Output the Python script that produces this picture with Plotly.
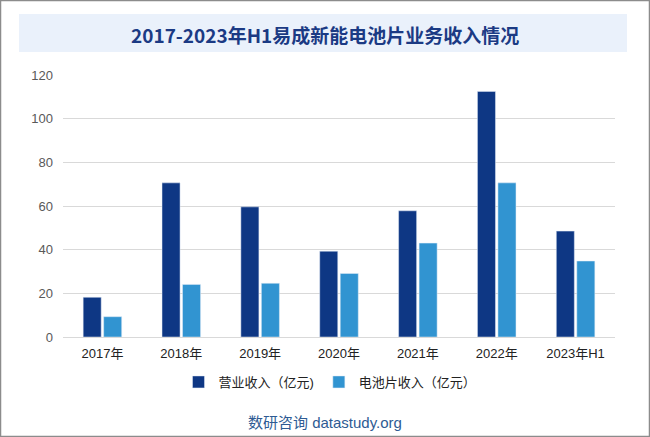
import plotly.graph_objects as go

categories = ["2017年", "2018年", "2019年", "2020年", "2021年", "2022年", "2023年H1"]
revenue = [18.2, 70.6, 59.6, 39.3, 57.8, 112.5, 48.5]
cell_revenue = [9.3, 24.1, 24.6, 29.1, 43.0, 70.6, 34.8]
series_names = ["营业收入（亿元)", "电池片收入（亿元）"]
y_ticks = [0, 20, 40, 60, 80, 100, 120]

W, H = 650, 437
L, R, T, B = 63, 35, 75, 100
pw, ph = W - L - R, H - T - B

def px_x(px):
    return (px - L) / pw

def px_y(py):
    return (H - B - py) / ph

FONT = "Liberation Sans, Noto Sans CJK SC, sans-serif"

fig = go.Figure()
fig.add_trace(go.Bar(x=categories, y=revenue, name=series_names[0], marker_color="#0E3784"))
fig.add_trace(go.Bar(x=categories, y=cell_revenue, name=series_names[1], marker_color="#3194D1"))

fig.update_layout(
    width=W, height=H,
    margin=dict(l=L, r=R, t=T, b=B),
    paper_bgcolor="white", plot_bgcolor="white",
    barmode="group", bargap=0.48, bargroupgap=0.12,
    font=dict(family=FONT, size=13, color="#333333"),
    showlegend=True,
    legend=dict(orientation="h", x=px_x(330), xanchor="center", y=px_y(382), yanchor="middle",
                font=dict(size=13, color="#222222", family=FONT), itemwidth=30,
                traceorder="normal"),
    xaxis=dict(showgrid=False, showline=True, linecolor="#D9D9D9", linewidth=1,
               ticks="", ticklabelstandoff=4, tickfont=dict(size=13, color="#222222")),
    yaxis=dict(range=[0, 120], tickvals=y_ticks, showgrid=True, gridcolor="#D9D9D9",
               zeroline=False, showline=False, ticks="", ticklabelstandoff=9,
               tickfont=dict(size=13, color="#595959")),
    shapes=[
        dict(type="rect", xref="paper", yref="paper",
             x0=px_x(0.5), x1=px_x(649.5), y0=px_y(436.5), y1=px_y(0.5),
             line=dict(color="#8C8C8C", width=1.5), fillcolor="rgba(0,0,0,0)", layer="below"),
        dict(type="rect", xref="paper", yref="paper",
             x0=px_x(19), x1=px_x(627), y0=px_y(52), y1=px_y(14),
             line=dict(width=0), fillcolor="#EAF1FB", layer="below"),
    ],
    annotations=[
        dict(text="<b>2017-2023年H1易成新能电池片业务收入情况</b>", xref="paper", yref="paper",
             x=px_x(325), y=px_y(34), xanchor="center", yanchor="middle", showarrow=False,
             font=dict(size=19, color="#1B3A84", family="Noto Sans CJK SC, serif")),
        dict(text="数研咨询 datastudy.org", xref="paper", yref="paper",
             x=px_x(325), y=px_y(422), xanchor="center", yanchor="middle", showarrow=False,
             font=dict(size=15, color="#2E5B93", family=FONT)),
    ],
)

fig.write_html("out.html", config={"displayModeBar": False},
               post_script="document.body.style.margin='0';document.body.style.overflow='hidden';")
